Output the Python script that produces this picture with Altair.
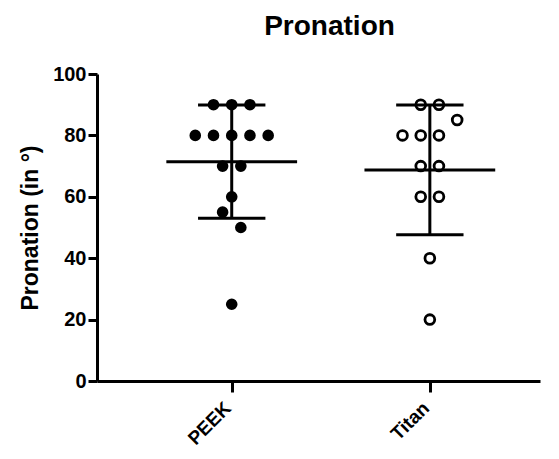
import altair as alt
import pandas as pd
import numpy as np
import math

groups = ["PEEK", "Titan"]
peek_values = [90, 90, 90, 80, 80, 80, 80, 80, 70, 70, 60, 55, 50, 25]
titan_values = [90, 90, 80, 80, 80, 85, 70, 70, 60, 60, 40, 20]
y_ticks = [0, 20, 40, 60, 80, 100]

SPACING = 0.092  # horizontal dot spacing in x units
BIN = 10.0       # beeswarm row height in data units


def beeswarm(values):
    """Binned beeswarm: values in the same row are centred side by side."""
    bins = {}
    for i, v in enumerate(values):
        b = math.ceil((v - 5) / BIN)
        bins.setdefault(b, []).append(i)
    offs = [0.0] * len(values)
    for idxs in bins.values():
        n = len(idxs)
        for k, i in enumerate(idxs):
            offs[i] = (k - (n - 1) / 2) * SPACING
    return offs


rows = []
stats = []
for gi, (g, vals) in enumerate(zip(groups, [peek_values, titan_values]), start=1):
    offs = beeswarm(vals)
    for v, o in zip(vals, offs):
        rows.append({"group": g, "value": v, "xpos": gi + o, "filled": g == "PEEK"})
    m = float(np.mean(vals))
    sd = float(np.std(vals, ddof=1))
    stats.append({"group": g, "gi": gi, "mean": m, "lo": m - sd, "hi": m + sd,
                  "m1": gi - 0.33, "m2": gi + 0.33, "c1": gi - 0.17, "c2": gi + 0.17})

pts = pd.DataFrame(rows)
st = pd.DataFrame(stats)

FONT = "Liberation Sans"
xscale = alt.Scale(domain=[0.32, 2.556], nice=False, zero=False)
yscale = alt.Scale(domain=[0, 100], nice=False)

xaxis = alt.Axis(values=[1, 2], labelExpr="datum.value == 1 ? 'PEEK' : 'Titan'",
                 labelAngle=-45, labelAlign="right", labelBaseline="alphabetic",
                 labelFontSize=19, tickSize=11, labelPadding=17, title=None, grid=False)
yaxis = alt.Axis(values=y_ticks, tickSize=9, labelPadding=2, grid=False,
                 title="Pronation (in °)", titlePadding=10)

base_pts = alt.Chart(pts)
filled = base_pts.transform_filter("datum.filled").mark_circle(
    size=135, color="black", opacity=1).encode(
    x=alt.X("xpos:Q", scale=xscale, axis=xaxis),
    y=alt.Y("value:Q", scale=yscale, axis=yaxis),
)
hollow = base_pts.transform_filter("!datum.filled").mark_point(
    shape="circle", filled=False, size=95, color="black", strokeWidth=2.8, opacity=1).encode(
    x=alt.X("xpos:Q", scale=xscale),
    y=alt.Y("value:Q", scale=yscale),
)

sb = alt.Chart(st)
mean_line = sb.mark_rule(color="black", strokeWidth=3).encode(
    x=alt.X("m1:Q", scale=xscale), x2="m2:Q", y=alt.Y("mean:Q", scale=yscale))
hi_cap = sb.mark_rule(color="black", strokeWidth=3).encode(
    x=alt.X("c1:Q", scale=xscale), x2="c2:Q", y=alt.Y("hi:Q", scale=yscale))
lo_cap = sb.mark_rule(color="black", strokeWidth=3).encode(
    x=alt.X("c1:Q", scale=xscale), x2="c2:Q", y=alt.Y("lo:Q", scale=yscale))
vert = sb.mark_rule(color="black", strokeWidth=3).encode(
    x=alt.X("gi:Q", scale=xscale), y=alt.Y("lo:Q", scale=yscale), y2="hi:Q")

chart = alt.layer(vert, mean_line, hi_cap, lo_cap, filled, hollow).properties(
    width=443, height=307,
    title=alt.TitleParams("Pronation", fontSize=28, font=FONT, fontWeight="bold",
                          anchor="middle", dx=11, offset=23, color="black"),
    autosize=alt.AutoSizeParams(type="none"),
    padding={"left": 89, "top": 66, "right": 11, "bottom": 70},
).configure_view(stroke=None).configure_axis(
    domainColor="black", domainWidth=3, tickColor="black", tickWidth=3,
    labelFont=FONT, labelFontSize=20, labelFontWeight="bold", labelColor="black",
    titleFont=FONT, titleFontSize=23, titleFontWeight="bold", titleColor="black",
)

chart.save("out.html", embed_options={"renderer": "svg", "actions": False})
